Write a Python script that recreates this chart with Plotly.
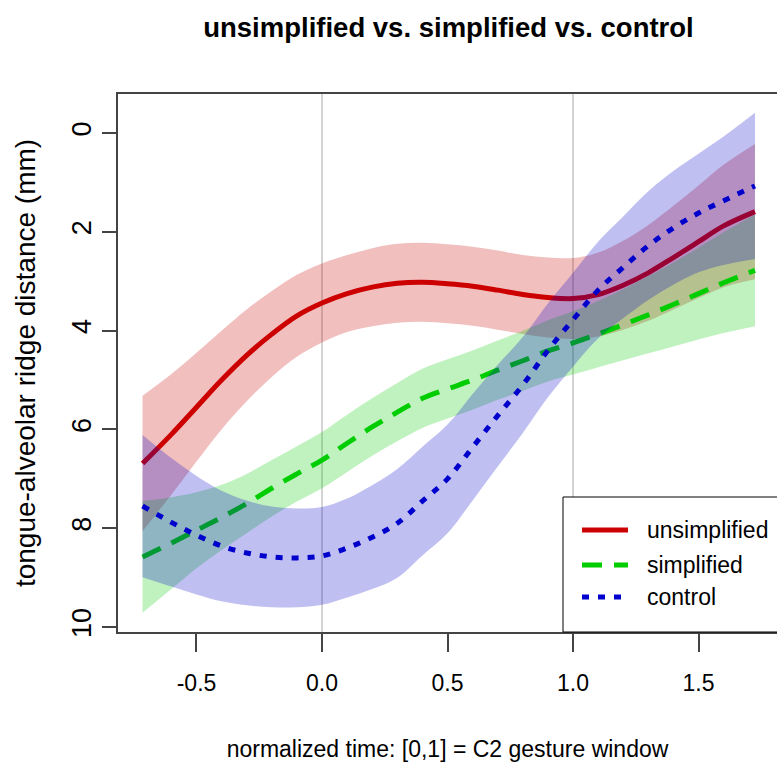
import plotly.graph_objects as go

# normalized time grid
x = [-0.715, -0.6, -0.5, -0.4, -0.3, -0.2, -0.1, 0.0, 0.1, 0.2, 0.3, 0.4, 0.5,
     0.6, 0.7, 0.8, 0.9, 1.0, 1.1, 1.2, 1.3, 1.4, 1.5, 1.6, 1.725]

# unsimplified
unsimp_mean = [6.69, 6.1, 5.55, 5.0, 4.5, 4.07, 3.7, 3.44, 3.25, 3.12, 3.04, 3.02, 3.05,
               3.1, 3.18, 3.27, 3.33, 3.35, 3.27, 3.08, 2.83, 2.52, 2.2, 1.88, 1.59]
unsimp_upper = [5.32, 4.88, 4.45, 4.0, 3.57, 3.2, 2.87, 2.64, 2.47, 2.33, 2.24, 2.22, 2.25,
                2.3, 2.38, 2.47, 2.52, 2.53, 2.42, 2.18, 1.86, 1.47, 1.06, 0.64, 0.22]
unsimp_lower = [8.06, 7.32, 6.65, 6.0, 5.43, 4.94, 4.53, 4.24, 4.03, 3.91, 3.84, 3.82, 3.85,
                3.9, 3.98, 4.07, 4.14, 4.17, 4.12, 3.98, 3.8, 3.57, 3.34, 3.12, 2.96]

# simplified
simp_mean = [8.58, 8.3, 8.04, 7.78, 7.5, 7.19, 6.9, 6.62, 6.28, 5.95, 5.65, 5.37, 5.18,
             5.0, 4.8, 4.61, 4.41, 4.25, 4.07, 3.88, 3.68, 3.47, 3.25, 3.03, 2.78]
simp_upper = [7.45, 7.37, 7.27, 7.12, 6.9, 6.62, 6.34, 6.05, 5.7, 5.37, 5.06, 4.77, 4.58,
              4.4, 4.2, 4.0, 3.79, 3.61, 3.4, 3.16, 2.9, 2.62, 2.32, 2.01, 1.65]
simp_lower = [9.71, 9.23, 8.81, 8.44, 8.1, 7.76, 7.46, 7.19, 6.86, 6.53, 6.24, 5.97, 5.78,
              5.6, 5.4, 5.22, 5.03, 4.89, 4.74, 4.6, 4.46, 4.32, 4.18, 4.05, 3.91]

# control
ctrl_mean = [7.55, 7.88, 8.14, 8.36, 8.5, 8.58, 8.6, 8.56, 8.4, 8.18, 7.9, 7.45, 7.0,
             6.36, 5.72, 5.1, 4.4, 3.78, 3.18, 2.72, 2.28, 1.92, 1.62, 1.37, 1.07]
ctrl_upper = [6.11, 6.58, 6.94, 7.24, 7.44, 7.56, 7.6, 7.57, 7.4, 7.13, 6.8, 6.35, 5.9,
              5.28, 4.69, 4.13, 3.45, 2.83, 2.2, 1.69, 1.18, 0.77, 0.42, 0.07, -0.41]
ctrl_lower = [8.99, 9.18, 9.34, 9.48, 9.56, 9.6, 9.6, 9.55, 9.4, 9.23, 9.0, 8.55, 8.1,
              7.44, 6.75, 6.07, 5.35, 4.73, 4.16, 3.75, 3.38, 3.07, 2.82, 2.67, 2.55]

x_ticks = [-0.5, 0.0, 0.5, 1.0, 1.5]
x_tick_labels = ["-0.5", "0.0", "0.5", "1.0", "1.5"]
y_ticks = [0, 2, 4, 6, 8, 10]
y_tick_labels = ["0", "2", "4", "6", "8", "10"]
ref_lines = [0.0, 1.0]

series = [
    ("unsimplified", unsimp_mean, unsimp_upper, unsimp_lower,
     "rgb(205,0,0)", "rgba(205,0,0,0.25)", "solid"),
    ("simplified", simp_mean, simp_upper, simp_lower,
     "rgb(0,205,0)", "rgba(0,205,0,0.25)", "20px,12px"),
    ("control", ctrl_mean, ctrl_upper, ctrl_lower,
     "rgb(0,0,205)", "rgba(0,0,205,0.25)", "7px,9px"),
]

REG = "Liberation Sans, Arial, sans-serif"

fig = go.Figure()
for name, mean, up, lo, col, fcol, dash in series:
    fig.add_trace(go.Scatter(x=x, y=lo, mode="lines", line=dict(width=0, shape="spline"),
                             showlegend=False, hoverinfo="skip"))
    fig.add_trace(go.Scatter(x=x, y=up, mode="lines", line=dict(width=0, shape="spline"),
                             fill="tonexty", fillcolor=fcol, showlegend=False, hoverinfo="skip"))
    fig.add_trace(go.Scatter(x=x, y=mean, mode="lines", name=name, showlegend=False,
                             line=dict(color=col, width=5, dash=dash, shape="spline")))

for xv in ref_lines:
    fig.add_shape(type="line", xref="x", yref="paper", x0=xv, x1=xv, y0=0, y1=1,
                  line=dict(color="#A8A8A8", width=1), layer="below")

# legend (bottom-right box, as in R's legend())
L, T, B = 118, 94, 632
W, H = 659, 538
px = lambda v: (v - L) / W
py = lambda v: (B - v) / H
fig.add_shape(type="rect", xref="paper", yref="paper", x0=px(563), x1=1.05, y0=0, y1=py(497),
              fillcolor="white", line=dict(color="black", width=1), layer="above")
for (name, mean, up, lo, col, fcol, dash), yy in zip(series, [530, 565, 597]):
    fig.add_shape(type="line", xref="paper", yref="paper", x0=px(582), x1=px(628),
                  y0=py(yy), y1=py(yy), line=dict(color=col, width=5, dash=dash), layer="above")
    fig.add_annotation(xref="paper", yref="paper", x=px(645), y=py(yy), text=name,
                       showarrow=False, xanchor="left", yanchor="middle",
                       font=dict(family=REG, size=23, color="black"))

fig.update_layout(
    width=777, height=767,
    margin=dict(l=L, r=0, t=T, b=767 - B),
    paper_bgcolor="white", plot_bgcolor="white",
    font=dict(family=REG, size=23, color="black"),
    title=dict(text="unsimplified vs. simplified vs. control",
               font=dict(family=REG, size=27.5, color="black", weight="bold"),
               x=448.5 / 777, xref="container", xanchor="center",
               y=1 - 27 / 767, yref="container", yanchor="middle"),
    xaxis=dict(range=[-0.8127, 1.8127], tickvals=x_ticks, ticktext=x_tick_labels,
               showgrid=False, zeroline=False, showline=True, mirror=True,
               linecolor="#444444", linewidth=1.5, ticks="outside", ticklen=18,
               tickwidth=1.5, tickcolor="#444444", ticklabelstandoff=12,
               tickfont=dict(family=REG, size=23),
               title=dict(text="normalized time: [0,1] = C2 gesture window", standoff=46,
                          font=dict(family=REG, size=23))),
    yaxis=dict(range=[10.10, -0.79], tickvals=y_ticks, ticktext=y_tick_labels, tickangle=-90,
               showgrid=False, zeroline=False, showline=True, mirror=False,
               linecolor="#444444", linewidth=1.5, ticks="outside", ticklen=14,
               tickwidth=1.5, tickcolor="#444444",
               tickfont=dict(family=REG, size=27),
               title=dict(text="tongue-alveolar ridge distance (mm)", standoff=24,
                          font=dict(family=REG, size=28))),
)

fig.write_html("out.html", config={"displayModeBar": False},
               post_script="document.body.style.margin='0';")
